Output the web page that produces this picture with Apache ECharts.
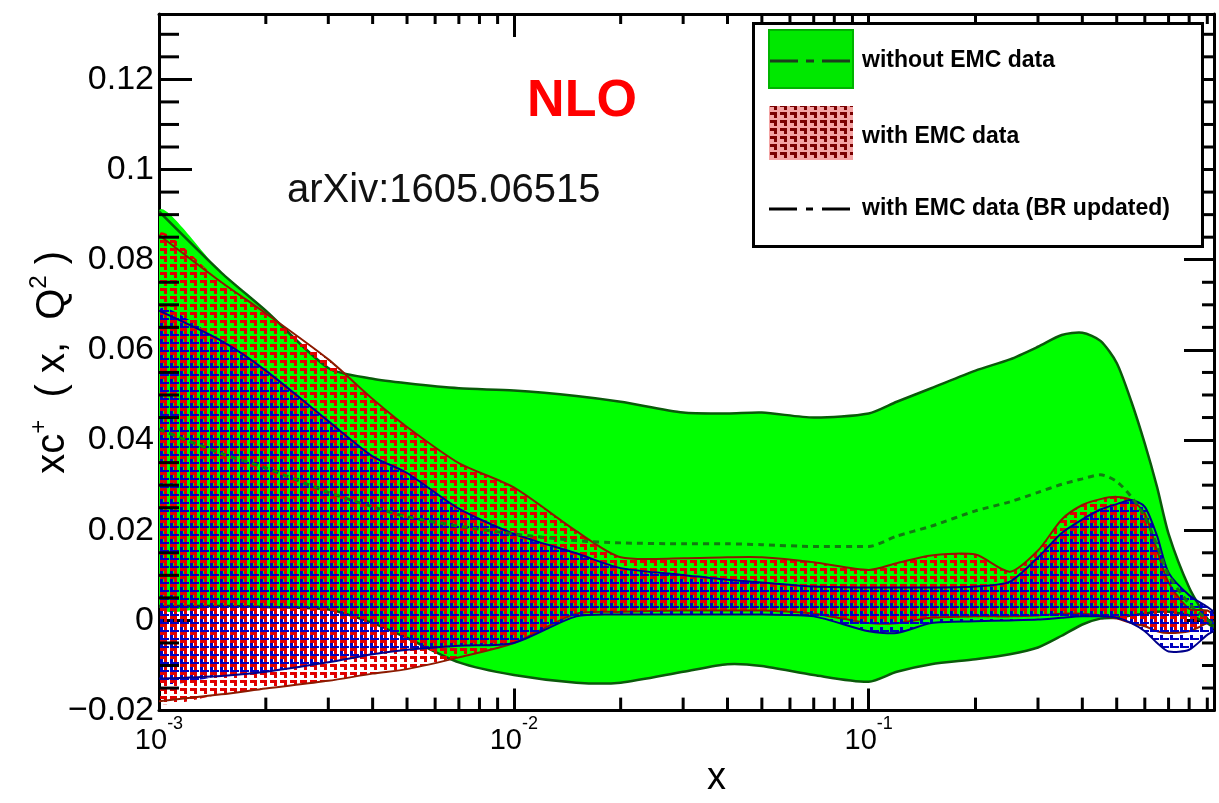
<!DOCTYPE html>
<html>
<head>
<meta charset="utf-8">
<title>xc+ (x, Q2) NLO</title>
<script src="https://cdn.jsdelivr.net/npm/echarts@6/dist/echarts.min.js"></script>
<style>
  html, body { margin: 0; padding: 0; background: #fff; }
  #chart { width: 1219px; height: 803px; }
</style>
</head>
<body>
<div id="chart"></div>
<script>
  // x grid shared by every band
  const xs = [0.001, 0.0015, 0.002, 0.003, 0.004, 0.005, 0.007, 0.01, 0.015, 0.02, 0.03, 0.04, 0.05, 0.07,
    0.1, 0.12, 0.15, 0.2, 0.25, 0.3, 0.35, 0.4, 0.45, 0.5, 0.55, 0.6, 0.65, 0.7, 0.8, 0.9, 0.94]

  // without EMC data (green band + central dashed line)
  const noEmcUpper = [0.0907, 0.0771, 0.0687, 0.0560, 0.0536, 0.0526, 0.0515, 0.0510, 0.0498, 0.0485, 0.0461, 0.0459, 0.0461, 0.0450,
    0.0459, 0.0485, 0.0515, 0.0554, 0.0579, 0.0607, 0.0633, 0.0638, 0.0620, 0.0571, 0.0485, 0.0392, 0.0295, 0.0192, 0.0073, 0.0004, -0.0013]
  const noEmcLower = [0.0032, 0.0032, 0.0030, 0.0024, -0.0006, -0.0039, -0.0093, -0.0121, -0.0138, -0.0138, -0.0114, -0.0097, -0.0101, -0.0121,
    -0.0136, -0.0114, -0.0097, -0.0086, -0.0075, -0.0060, -0.0034, -0.0009, 0.0004, 0.0006, 0.0011, 0.0015, 0.0019, 0.0019, 0.0011, -0.0006, -0.0017]
  const noEmcCentral = [0.0424, 0.0370, 0.0338, 0.0284, 0.0252, 0.0230, 0.0209, 0.0192, 0.0177, 0.0172, 0.0170, 0.0170, 0.0168, 0.0164,
    0.0164, 0.0187, 0.0209, 0.0243, 0.0263, 0.0284, 0.0302, 0.0314, 0.0323, 0.0308, 0.0274, 0.0230, 0.0166, 0.0101, 0.0037, 0.0002, -0.0011]

  // with EMC data (red hatch)
  const emcUpper = [0.0855, 0.0750, 0.0681, 0.0579, 0.0491, 0.0429, 0.0349, 0.0295, 0.0198, 0.0140, 0.0138, 0.0140, 0.0140, 0.0129,
    0.0112, 0.0127, 0.0144, 0.0146, 0.0108, 0.0155, 0.0224, 0.0256, 0.0269, 0.0274, 0.0267, 0.0237, 0.0155, 0.0084, 0.0026, 0.0022, 0.0011]
  const emcLower = [-0.0179, -0.0164, -0.0151, -0.0134, -0.0118, -0.0108, -0.0082, -0.0050, 0.0015, 0.0019, 0.0022, 0.0022, 0.0022, 0.0015,
    -0.0006, -0.0006, 0.0006, 0.0009, 0.0009, 0.0011, 0.0015, 0.0015, 0.0011, 0.0004, -0.0006, -0.0013, -0.0024, -0.0028, -0.0024, -0.0006, -0.0002]

  // with EMC data, BR updated (blue hatch)
  const brUpper = [0.0687, 0.0620, 0.0554, 0.0442, 0.0364, 0.0327, 0.0248, 0.0192, 0.0149, 0.0116, 0.0101, 0.0090, 0.0084, 0.0075,
    0.0073, 0.0073, 0.0073, 0.0075, 0.0086, 0.0140, 0.0194, 0.0224, 0.0246, 0.0258, 0.0267, 0.0252, 0.0187, 0.0106, 0.0056, 0.0030, 0.0019]
  const brLower = [-0.0129, -0.0123, -0.0114, -0.0093, -0.0075, -0.0065, -0.0056, -0.0050, 0.0009, 0.0013, 0.0013, 0.0013, 0.0013, 0.0009,
    -0.0024, -0.0028, -0.0006, -0.0002, 0.0000, 0.0002, 0.0006, 0.0009, 0.0009, 0.0006, -0.0006, -0.0024, -0.0050, -0.0069, -0.0065, -0.0032, -0.0024]

  // minor tick positions (ROOT style frame)
  const xMinorTicks = [0.002, 0.003, 0.004, 0.005, 0.006, 0.007, 0.008, 0.009,
    0.02, 0.03, 0.04, 0.05, 0.06, 0.07, 0.08, 0.09,
    0.2, 0.3, 0.4, 0.5, 0.6, 0.7, 0.8, 0.9]
  const yMinorTicks = [-0.015, -0.01, -0.005, 0.005, 0.01, 0.015, 0.025, 0.03, 0.035, 0.045, 0.05, 0.055,
    0.065, 0.07, 0.075, 0.085, 0.09, 0.095, 0.105, 0.11, 0.115, 0.125, 0.13]

  const xMin = 0.001
  const xMax = 0.94
  const yMin = -0.02
  const yMax = 0.1345
  const font = '"Liberation Sans", Arial, Helvetica, sans-serif'

  // small repeating tile used as hatch fill
  function hatch(color, rects, bg) {
    const c = document.createElement('canvas')
    c.width = 10
    c.height = 8
    const g = c.getContext('2d')
    if (bg) {
      g.fillStyle = bg
      g.fillRect(0, 0, 10, 8)
    }
    g.fillStyle = color
    rects.forEach(r => g.fillRect(r[0], r[1], r[2], r[3]))
    return c
  }
  const redHatch = hatch('#e00000', [[0, 0, 7, 3], [4, 3, 3, 3]])
  const blueHatch = hatch('#0000c0', [[0, 3, 3, 5], [3, 6, 6, 2]])
  const legendHatch = hatch('#7a0000', [[0, 0, 7, 3], [4, 3, 3, 3]], '#f4a4a4')

  // band between lower and upper, drawn as one polygon through the axes' scales
  function band(name, lower, upper, fill, edge, edgeWidth) {
    return {
      name: name,
      type: 'custom',
      silent: true,
      clip: true,
      data: xs.map((x, i) => [x, lower[i], upper[i]]),
      encode: { x: 0, y: [1, 2] },
      renderItem: (params, api) => {
        if (params.dataIndex !== 0) return null
        const up = []
        const lo = []
        for (let i = 0; i < xs.length; i++) {
          up.push(api.coord([xs[i], upper[i]]))
          lo.push(api.coord([xs[i], lower[i]]))
        }
        // keep the spline control points inside the plot frame
        const box = [api.coord([xMin, yMax]), api.coord([xMax, yMin])]
        return {
          type: 'group',
          children: [{
            type: 'polygon',
            shape: { points: up.concat(lo.slice().reverse()), smooth: 0.25, smoothConstraint: box },
            style: { fill: fill }
          }, {
            type: 'polyline',
            shape: { points: up, smooth: 0.25, smoothConstraint: box },
            style: { fill: null, stroke: edge, lineWidth: edgeWidth }
          }, {
            type: 'polyline',
            shape: { points: lo, smooth: 0.25, smoothConstraint: box },
            style: { fill: null, stroke: edge, lineWidth: edgeWidth }
          }]
        }
      }
    }
  }

  function fmtY(v) {
    const k = v / 0.02
    if (Math.abs(k - Math.round(k)) > 1e-6) return ''
    const r = Math.round(k) * 0.02
    if (Math.abs(r) < 1e-9) return '0'
    return (r < 0 ? '\u2212' : '') + (+Math.abs(r).toFixed(2))
  }

  function fmtX(v) {
    const l = Math.log10(v)
    const e = Math.round(l)
    if (Math.abs(l - e) > 1e-3) return ''
    return '{b|10}{s|' + e + '}'
  }

  const chart = echarts.init(document.getElementById('chart'))

  chart.setOption({
    animation: false,
    backgroundColor: '#fff',
    grid: { left: 159, right: 5, top: 14, bottom: 71, containLabel: false },
    xAxis: [{
      type: 'log',
      logBase: 10,
      min: xMin,
      max: xMax,
      position: 'bottom',
      axisLine: { show: true, onZero: false, lineStyle: { color: '#000', width: 3 } },
      axisTick: { show: true, inside: true, length: 22, lineStyle: { color: '#000', width: 3 } },
      splitLine: { show: false },
      axisLabel: {
        margin: 4,
        formatter: fmtX,
        rich: {
          b: { fontSize: 29, fontFamily: font, color: '#000' },
          s: { fontSize: 18, fontFamily: font, color: '#000', padding: [0, 0, 34, 0] }
        }
      },
      name: 'x',
      nameLocation: 'middle',
      nameGap: 44,
      nameTextStyle: { fontSize: 38, fontFamily: font, color: '#000', padding: [0, 0, 0, 60] }
    }, {
      type: 'log',
      logBase: 10,
      min: xMin,
      max: xMax,
      position: 'top',
      axisLine: { show: true, onZero: false, lineStyle: { color: '#000', width: 3 } },
      axisTick: { show: true, inside: true, length: 23, lineStyle: { color: '#000', width: 3 } },
      axisLabel: { show: false },
      splitLine: { show: false }
    }],
    yAxis: [{
      type: 'value',
      min: yMin,
      max: yMax,
      interval: 0.02,
      position: 'left',
      axisLine: { show: true, onZero: false, lineStyle: { color: '#000', width: 3 } },
      axisTick: { show: true, inside: true, length: 33, lineStyle: { color: '#000', width: 3 } },
      splitLine: { show: false },
      axisLabel: { margin: 5, fontSize: 34, fontFamily: font, color: '#000', formatter: fmtY },
      name: '{t|xc}{s|+}{t|  ( x,  Q}{s|2}{t| )}',
      nameLocation: 'middle',
      nameGap: 80,
      nameMoveOverlap: false,
      nameTextStyle: {
        rich: {
          t: { fontSize: 40, fontFamily: font, color: '#000' },
          s: { fontSize: 24, fontFamily: font, color: '#000', padding: [0, 0, 28, 0] }
        }
      }
    }, {
      type: 'value',
      min: yMin,
      max: yMax,
      interval: 0.02,
      position: 'right',
      axisLine: { show: true, onZero: false, lineStyle: { color: '#000', width: 3 } },
      axisTick: { show: true, inside: true, length: 30, lineStyle: { color: '#000', width: 3 } },
      axisLabel: { show: false },
      splitLine: { show: false }
    }],
    series: [
      band('without EMC data', noEmcLower, noEmcUpper, '#00ff00', '#0a5a0a', 2.5),
      {
        name: 'without EMC data central',
        type: 'line',
        data: xs.map((x, i) => [x, noEmcCentral[i]]),
        symbol: 'none',
        smooth: 0.25,
        silent: true,
        lineStyle: { color: '#127a12', width: 3, type: [6, 5] }
      },
      band('with EMC data', emcLower, emcUpper, { image: redHatch, repeat: 'repeat' }, '#8b1a00', 2),
      band('with EMC data (BR updated)', brLower, brUpper, { image: blueHatch, repeat: 'repeat' }, '#00008b', 2),
      {
        name: 'x minor ticks',
        type: 'custom',
        silent: true,
        z: 10,
        data: xMinorTicks.map(v => [v, yMin]),
        renderItem: (params, api) => {
          const b = api.coord([api.value(0), yMin])
          const t = api.coord([api.value(0), yMax])
          return {
            type: 'group',
            children: [
              { type: 'line', shape: { x1: b[0], y1: b[1], x2: b[0], y2: b[1] - 13 }, style: { stroke: '#000', lineWidth: 3 } },
              { type: 'line', shape: { x1: t[0], y1: t[1], x2: t[0], y2: t[1] + 10 }, style: { stroke: '#000', lineWidth: 3 } }
            ]
          }
        }
      },
      {
        name: 'y minor ticks',
        type: 'custom',
        silent: true,
        z: 10,
        data: yMinorTicks.map(v => [xMin, v]),
        renderItem: (params, api) => {
          const l = api.coord([xMin, api.value(1)])
          const r = api.coord([xMax, api.value(1)])
          return {
            type: 'group',
            children: [
              { type: 'line', shape: { x1: l[0], y1: l[1], x2: l[0] + 20, y2: l[1] }, style: { stroke: '#000', lineWidth: 3 } },
              { type: 'line', shape: { x1: r[0], y1: r[1], x2: r[0] - 12, y2: r[1] }, style: { stroke: '#000', lineWidth: 3 } }
            ]
          }
        }
      }
    ],
    graphic: [
      // labels inside the frame
      { type: 'text', x: 582, y: 102, z: 50,
        style: { text: 'NLO', fill: '#ff0000', fontSize: 52, fontWeight: 'bold', fontFamily: font, align: 'center', verticalAlign: 'middle' } },
      { type: 'text', x: 287, y: 191, z: 50,
        style: { text: 'arXiv:1605.06515', fill: '#111', fontSize: 40, fontFamily: font, align: 'left', verticalAlign: 'middle' } },
      // legend box
      { type: 'rect', z: 100, shape: { x: 753.5, y: 23.5, width: 449, height: 223 },
        style: { fill: '#fff', stroke: '#000', lineWidth: 3 } },
      { type: 'rect', z: 101, shape: { x: 769, y: 30, width: 84, height: 58 },
        style: { fill: '#00e800', stroke: '#00b400', lineWidth: 2 } },
      { type: 'line', z: 102, shape: { x1: 770, y1: 61, x2: 852, y2: 61 },
        style: { stroke: '#1c3d1c', lineWidth: 3, lineDash: [28, 8, 8, 8] } },
      { type: 'text', z: 102, x: 862, y: 61,
        style: { text: 'without EMC data', fill: '#000', fontSize: 23, fontWeight: 'bold', fontFamily: font, verticalAlign: 'middle' } },
      { type: 'rect', z: 101, shape: { x: 769, y: 106, width: 84, height: 54 },
        style: { fill: { image: legendHatch, repeat: 'repeat' } } },
      { type: 'text', z: 102, x: 862, y: 137,
        style: { text: 'with EMC data', fill: '#000', fontSize: 23, fontWeight: 'bold', fontFamily: font, verticalAlign: 'middle' } },
      { type: 'line', z: 102, shape: { x1: 769, y1: 209, x2: 852, y2: 209 },
        style: { stroke: '#000', lineWidth: 3, lineDash: [28, 9, 7, 9] } },
      { type: 'text', z: 102, x: 862, y: 209,
        style: { text: 'with EMC data (BR updated)', fill: '#000', fontSize: 23, fontWeight: 'bold', fontFamily: font, verticalAlign: 'middle' } }
    ]
  })
</script>
</body>
</html>
